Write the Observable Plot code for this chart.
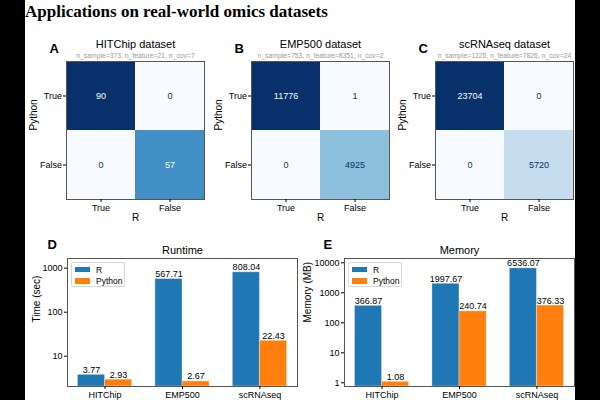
<!DOCTYPE html>
<html>
<head>
<meta charset="utf-8">
<script src="https://cdn.jsdelivr.net/npm/d3@7"></script>
<script src="https://cdn.jsdelivr.net/npm/@observablehq/plot@0.6"></script>
<style>
  html, body { margin: 0; padding: 0; background: #000; }
  #page { position: relative; width: 600px; height: 400px; overflow: hidden; background: #000; }
  #white { position: absolute; left: 25px; top: 0; width: 550px; height: 400px; background: #fff; }
  .abs { position: absolute; }
  #title { position: absolute; left: 25px; top: 2px; font-family: "Liberation Serif", "Times New Roman", serif; font-weight: bold; font-size: 17px; color: #000; white-space: nowrap; }
  .legend { position: absolute; background: #fff; border: 1px solid #d6d6d6; border-radius: 2px; font-family: "Liberation Sans", Arial, sans-serif; font-size: 8.5px; color: #000; box-sizing: border-box; }
  .legend .sw { position: absolute; width: 15px; height: 5.5px; }
  .legend .lb { position: absolute; line-height: 10px; }
</style>
</head>
<body>
<div id="page">
  <div id="white"></div>
  <div id="title">Applications on real-world omics datasets</div>
</div>
<script>
// ---------- data ----------
const datasets = ["HITChip", "EMP500", "scRNAseq"];
const cmTitles = ["HITChip dataset", "EMP500 dataset", "scRNAseq dataset"];
const cmSubtitles = ["n_sample=373, n_feature=21, n_cov=7", "n_sample=753, n_feature=8351, n_cov=2", "n_sample=1226, n_feature=7826, n_cov=24"];
const cmLetters = ["A", "B", "C"];
const cmLabels = ["True", "False"];
// rows: Python True / False ; columns: R True / False
const cmHITChip = [[90, 0], [0, 57]];
const cmEMP500 = [[11776, 1], [0, 4925]];
const cmScRNAseq = [[23704, 0], [0, 5720]];

const seriesNames = ["R", "Python"];
const seriesColors = ["#1f77b4", "#ff7f0e"];
const runtimeR = [3.77, 567.71, 808.04];
const runtimePython = [2.93, 2.67, 22.43];
const memoryR = [366.87, 1997.67, 6536.07];
const memoryPython = [1.08, 240.74, 376.33];
const runtimeTicks = [10, 100, 1000];
const memoryTicks = [1, 10, 100, 1000, 10000];

// ---------- helpers ----------
const FONT = "'Liberation Sans', Arial, Helvetica, sans-serif";
const page = document.getElementById("page");

function place(el, left, top) {
  const wrap = document.createElement("div");
  wrap.className = "abs";
  wrap.style.left = left + "px";
  wrap.style.top = top + "px";
  wrap.appendChild(el);
  page.appendChild(wrap);
}

function heatmap(matrix, idx, frameLeft) {
  const cells = [];
  matrix.forEach((row, i) => row.forEach((v, j) => cells.push({py: cmLabels[i], r: cmLabels[j], value: v})));
  const max = d3.max(cells, d => d.value);
  const mL = 41, mR = 5, mT = 31, mB = 26, fw = 138, fh = 138;
  const svg = Plot.plot({
    width: mL + fw + mR, height: mT + fh + mB,
    marginLeft: mL, marginRight: mR, marginTop: mT, marginBottom: mB,
    style: {fontFamily: FONT, fontSize: "9px", background: "transparent", color: "#000", overflow: "visible"},
    x: {domain: cmLabels, padding: 0, axis: null},
    y: {domain: cmLabels, padding: 0, axis: null},
    color: {type: "linear", scheme: "blues", domain: [0, max]},
    marks: [
      Plot.cell(cells, {x: "r", y: "py", fill: "value"}),
      Plot.text(cells, {filter: d => d.value > max / 2, x: "r", y: "py", text: d => String(d.value), fill: "#f7fbff", fontSize: 9}),
      Plot.text(cells, {filter: d => d.value <= max / 2, x: "r", y: "py", text: d => String(d.value), fill: "#08306b", fontSize: 9}),
      Plot.frame({stroke: "#555", strokeWidth: 1}),
      Plot.axisX({anchor: "bottom", tickSize: 3, tickPadding: 2, label: null, fontSize: 9}),
      Plot.axisY({anchor: "left", tickSize: 3, tickPadding: 1.5, label: null, fontSize: 9}),
      Plot.text(["R"], {text: d => d, frameAnchor: "bottom", dy: 18, lineAnchor: "middle", fontSize: 10}),
      Plot.text(["Python"], {text: d => d, frameAnchor: "left", dx: -33, rotate: -90, lineAnchor: "middle", fontSize: 10}),
      Plot.text([cmLetters[idx]], {text: d => d, frameAnchor: "top-left", dx: -17, dy: -13, textAnchor: "start", lineAnchor: "middle", fontSize: 13, fontWeight: "bold"}),
      Plot.text([cmTitles[idx]], {text: d => d, frameAnchor: "top", dy: -17.5, lineAnchor: "middle", fontSize: 11}),
      Plot.text([cmSubtitles[idx]], {text: d => d, frameAnchor: "top", dy: -5.5, lineAnchor: "middle", fontSize: 6.8, fill: "#9a9a9a"})
    ]
  });
  place(svg, frameLeft - mL, 61 - mT);
}

heatmap(cmHITChip, 0, 66);
heatmap(cmEMP500, 1, 251);
heatmap(cmScRNAseq, 2, 435);

function barPanel(rVals, pyVals, ticks, yDomain, letter, title, ylabel, svgLeft, mL, mR, ylabelDx, letterDx) {
  const bw = 0.35;
  const rows = [];
  datasets.forEach((ds, i) => {
    rows.push({i, series: seriesNames[0], value: rVals[i], x1: i - bw, x2: i});
    rows.push({i, series: seriesNames[1], value: pyVals[i], x1: i, x2: i + bw});
  });
  const width = 275, height = 160, mT = 18, mB = 14;
  const svg = Plot.plot({
    width, height, marginLeft: mL, marginRight: mR, marginTop: mT, marginBottom: mB,
    style: {fontFamily: FONT, fontSize: "9px", background: "transparent", color: "#000", overflow: "visible"},
    x: {type: "linear", domain: [-0.485, 2.485], axis: null},
    y: {type: "log", domain: yDomain, axis: null},
    color: {domain: seriesNames, range: seriesColors},
    marks: [
      Plot.rect(rows, {x1: "x1", x2: "x2", y1: yDomain[0], y2: "value", fill: "series", stroke: "#fff", strokeOpacity: 0.35, strokeWidth: 1}),
      Plot.text(rows, {x: d => (d.x1 + d.x2) / 2, y: "value", text: d => d.value.toFixed(2), dy: -2, lineAnchor: "bottom", fontSize: 9}),
      Plot.frame({stroke: "#555", strokeWidth: 1}),
      Plot.axisX({anchor: "bottom", ticks: [0, 1, 2], tickFormat: i => datasets[i], tickSize: 3, tickPadding: 2, label: null, fontSize: 9}),
      Plot.axisY({anchor: "left", ticks: ticks, tickFormat: d => String(d), tickSize: 3, tickPadding: 2, label: null, fontSize: 9}),
      Plot.text([ylabel], {text: d => d, frameAnchor: "left", dx: ylabelDx, rotate: -90, lineAnchor: "middle", fontSize: 10}),
      Plot.text([letter], {text: d => d, frameAnchor: "top-left", dx: letterDx, dy: -14, textAnchor: "start", lineAnchor: "middle", fontSize: 13, fontWeight: "bold"}),
      Plot.text([title], {text: d => d, frameAnchor: "top", dy: -8.5, lineAnchor: "middle", fontSize: 11})
    ]
  });
  place(svg, svgLeft, 240);
  // legend
  const frameLeft = svgLeft + mL;
  const lg = document.createElement("div");
  lg.className = "legend";
  lg.style.left = (frameLeft + 4) + "px";
  lg.style.top = "262px";
  lg.style.width = "54px";
  lg.style.height = "25px";
  seriesNames.forEach((name, k) => {
    const sw = document.createElement("div");
    sw.className = "sw";
    sw.style.background = seriesColors[k];
    sw.style.left = "3px";
    sw.style.top = (3.5 + k * 11.5) + "px";
    lg.appendChild(sw);
    const lb = document.createElement("div");
    lb.className = "lb";
    lb.textContent = name;
    lb.style.left = "24px";
    lb.style.top = (1.5 + k * 11.5) + "px";
    lg.appendChild(lb);
  });
  page.appendChild(lg);
}

barPanel(runtimeR, runtimePython, runtimeTicks, [2.05, 1660], "D", "Runtime", "Time (sec)", 25, 42, 3, -31, -20);
barPanel(memoryR, memoryPython, memoryTicks, [0.753, 13900], "E", "Memory", "Memory (MB)", 300, 44, 1, -37, -21);
</script>
</body>
</html>
